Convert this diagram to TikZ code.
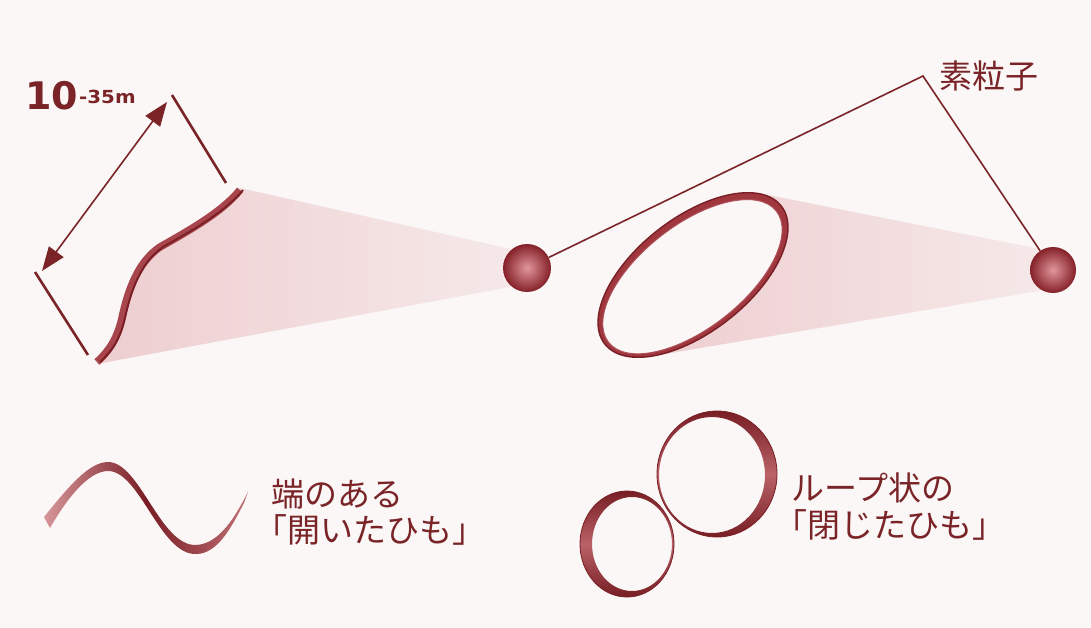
\documentclass[tikz,border=0pt]{standalone}
\usepackage{fontspec}
\newfontfamily\jp{Noto Sans CJK JP}
\newfontfamily\numfont{DejaVu Sans}
\usetikzlibrary{arrows.meta}

\definecolor{ink}{RGB}{122,36,40}
\definecolor{paper}{RGB}{250,247,246}
\definecolor{rib}{RGB}{160,55,62}
\definecolor{ribdark}{RGB}{120,30,36}
\definecolor{ribpale}{RGB}{215,150,155}
\definecolor{haze}{RGB}{238,206,208}
\definecolor{glow}{RGB}{226,150,156}
\definecolor{rim}{RGB}{132,32,40}

\tikzset{
  lbl/.style={font=\jp\fontsize{33}{33}\selectfont, text=ink, inner sep=0, anchor=base west},
  sphere/.style={circle, inner sep=0, minimum size=#1, inner color=glow, outer color=rim},
  dimline/.style={draw=ink, line width=2.6},
  leader/.style={draw=ink, line width=1.6},
  cone/.style={left color=haze, right color=haze!35!paper},
  band/.style={even odd rule, top color=ribdark, bottom color=ribdark, middle color=rib!55!ribpale},
}

\begin{document}
\begin{tikzpicture}[x=1pt, y=1pt]
  \fill[paper] (0,0) rectangle (1091,-628);
  \useasboundingbox (0,0) rectangle (1091,-628);

  % ---------- open string and its cone ----------
  \path[cone] (240,-188) -- (515,-250) -- (515,-286) -- (97,-364)
    .. controls (108,-352) and (117,-340) .. (122,-318)
    .. controls (128,-290) and (138,-262) .. (160,-247)
    .. controls (190,-230) and (222,-212) .. (240,-188) -- cycle;
  \draw[rib!85!ribpale, line width=7.5, line cap=butt] (240,-190)
    .. controls (222,-212) and (190,-230) .. (160,-247)
    .. controls (138,-262) and (128,-290) .. (122,-318)
    .. controls (117,-340) and (108,-352) .. (97,-362);
  \draw[ribdark, line width=1.8, xshift=3] (240,-190)
    .. controls (222,-212) and (190,-230) .. (160,-247)
    .. controls (138,-262) and (128,-290) .. (122,-318)
    .. controls (117,-340) and (108,-352) .. (97,-362);

  % size marker
  \coordinate (tickAa) at (172,-95);
  \coordinate (tickAb) at (226,-183);
  \coordinate (tickBa) at (35,-272);
  \coordinate (tickBb) at (88,-355);
  \coordinate (arrA) at (167,-102);
  \coordinate (arrB) at (42,-271);
  \draw[dimline] (tickAa) -- (tickAb);
  \draw[dimline] (tickBa) -- (tickBb);
  \draw[ink, line width=1.6, {Triangle[length=24,width=18]}-{Triangle[length=24,width=18]}] (arrA) -- (arrB);

  \node[inner sep=0, anchor=base west, text=ink, font=\numfont\bfseries\fontsize{38}{38}\selectfont] (ten) at (25,-110) {10};
  \node[inner sep=0, anchor=base west, text=ink, font=\numfont\bfseries\fontsize{18}{18}\selectfont, xscale=1.1] (expo) at (79,-104) {-35m};

  % ---------- closed string and its cone ----------
  \path[cone] (693,-275) -- (758,-193) -- (1045,-250) -- (1045,-290) -- (653,-356) -- cycle;
  \begin{scope}[shift={(693,-275)}, rotate=38]
    \fill[paper] (0,0) ellipse [x radius=108, y radius=53];
    \fill[even odd rule, rib] (0,0) ellipse [x radius=112, y radius=57]
                              (-1.5,-1) ellipse [x radius=106.5, y radius=51.5];
    \draw[ribdark, line width=1.4] (0,0) ellipse [x radius=112, y radius=57];
    \draw[rib!70!ribpale, line width=1] (-1.5,-1) ellipse [x radius=106.5, y radius=51.5];
  \end{scope}

  % ---------- elementary particles ----------
  \node[sphere=48] (p1) at (527,-268) {};
  \node[sphere=46] (p2) at (1053,-270) {};
  \coordinate (knee) at (923,-76);
  \draw[leader] (p1) -- (knee) -- (p2);
  \node[lbl] (particle) at (939,-89) {素粒子};

  % ---------- open string (legend) ----------
  \shade[left color=ribpale, right color=ribpale!60!rib, middle color=ribdark]
    (44,-517) .. controls (66,-490) and (88,-462) .. (108,-462)
    .. controls (140,-462) and (160,-546) .. (196,-545)
    .. controls (220,-544) and (236,-515) .. (248,-492)
    -- (244,-503)
    .. controls (232,-526) and (218,-554) .. (196,-554)
    .. controls (160,-555) and (140,-471) .. (108,-471)
    .. controls (88,-471) and (66,-500) .. (50,-528) -- cycle;
  \node[lbl] (openA) at (271,-506) {端のある};
  \node[lbl] (openB) at (271,-542) {\kern-0.5em「開いたひも」};

  % ---------- closed strings (legend) ----------
  \shade[band] (627,-544) ellipse [x radius=47, y radius=53]
               (632,-544) ellipse [x radius=40, y radius=47];
  \draw[ribdark, line width=0.8] (627,-544) ellipse [x radius=47, y radius=53];
  \shade[band] (717,-474) ellipse [x radius=60, y radius=63]
               (712,-475) ellipse [x radius=53, y radius=58];
  \draw[ribdark, line width=0.8] (717,-474) ellipse [x radius=60, y radius=63];
  \node[lbl] (closedA) at (791,-500) {ループ状の};
  \node[lbl] (closedB) at (791,-537) {\kern-0.5em「閉じたひも」};
\end{tikzpicture}
\end{document}
